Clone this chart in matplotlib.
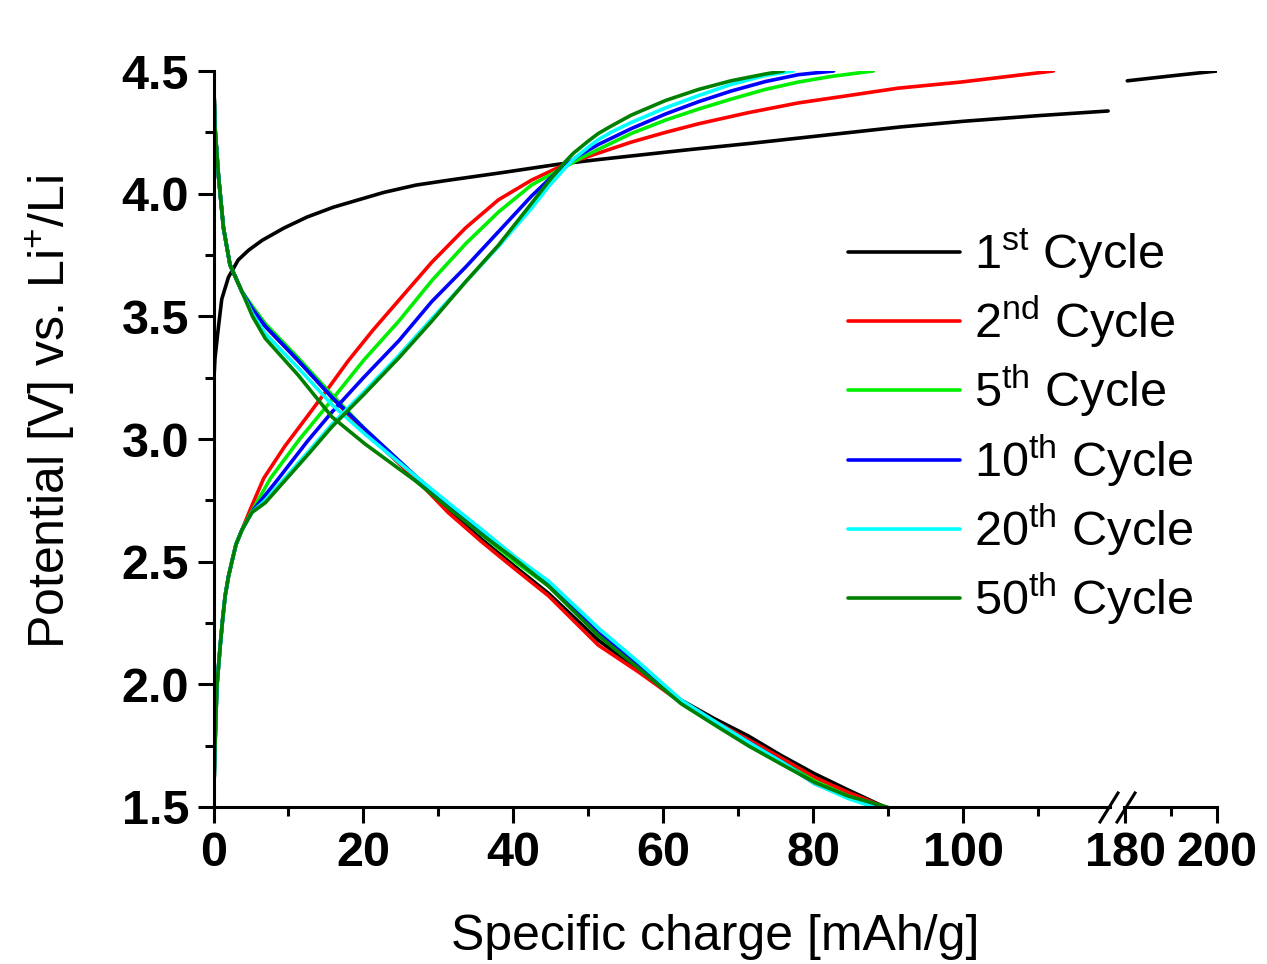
import matplotlib
matplotlib.use('Agg')
import matplotlib.pyplot as plt
import numpy as np
from matplotlib.lines import Line2D

plt.rcParams['font.family'] = ['Liberation Sans', 'DejaVu Sans']
plt.rcParams['mathtext.default'] = 'regular'

W, H = 1267, 964

labels = ['1$^{st}$ Cycle', '2$^{nd}$ Cycle', '5$^{th}$ Cycle',
          '10$^{th}$ Cycle', '20$^{th}$ Cycle', '50$^{th}$ Cycle']
colors = ['#000000', '#ff0000', '#00ee00', '#0000ff', '#00ffff', '#008000']

# charge curves (specific charge in mAh/g, potential in V)
ch_x_1 = [0, 0.2, 0.67, 1.1, 2.0, 3.3, 4.7, 6.5, 9.4, 12.5, 16, 22.7, 27, 31.6, 38.3,
          46, 51.6, 63.6, 71.6, 91.6, 100, 110, 119.3, 180.5, 190, 200]
ch_v_1 = [3.21, 3.33, 3.46, 3.57, 3.66, 3.73, 3.77, 3.81, 3.86, 3.905, 3.945, 4.005,
          4.035, 4.056, 4.085, 4.12, 4.14, 4.18, 4.205, 4.272, 4.295, 4.318, 4.337,
          4.46, 4.48, 4.5]

ch_x_2 = [0, 0.2, 0.45, 0.9, 1.2, 1.55, 2.0, 2.45, 3.0, 3.8, 5.0, 6.7, 9.5, 12.7, 15.5,
          18, 21.3, 24.7, 29.1, 33.6, 38, 42.4, 46.9, 51.3, 55.7, 60.3, 64.7, 71.3, 78,
          84.7, 91.3, 99.7, 106, 112]
ch_v_2 = [1.5, 1.75, 1.99, 2.16, 2.26, 2.36, 2.44, 2.50, 2.57, 2.63, 2.72, 2.84, 2.97,
          3.10, 3.215, 3.32, 3.445, 3.565, 3.72, 3.86, 3.975, 4.055, 4.12, 4.165, 4.21,
          4.25, 4.285, 4.33, 4.37, 4.40, 4.43, 4.455, 4.478, 4.5]

ch_x_5 = [0, 0.2, 0.45, 0.9, 1.2, 1.55, 2.0, 2.45, 3.0, 3.8, 5.2, 7.6, 11.5, 15.8, 20,
          24.7, 29.1, 33.6, 38, 42.4, 46.9, 49.3, 51.3, 55.7, 60.3, 64.7, 69, 73.6, 78,
          82.4, 88]
ch_v_5 = [1.5, 1.75, 1.99, 2.16, 2.26, 2.36, 2.44, 2.50, 2.57, 2.63, 2.71, 2.84, 3.0,
          3.16, 3.32, 3.48, 3.645, 3.795, 3.925, 4.035, 4.11, 4.15, 4.18, 4.245, 4.30,
          4.345, 4.385, 4.425, 4.455, 4.478, 4.5]

ch_x_10 = [0, 0.2, 0.45, 0.9, 1.2, 1.55, 2.0, 2.45, 3.0, 3.8, 5.3, 8.7, 12.5, 15.8, 20,
           24.7, 29.1, 33.6, 38, 42.4, 46, 48.7, 51.3, 55.7, 60.3, 64.7, 69, 73.6, 78,
           82.7]
ch_v_10 = [1.5, 1.75, 1.99, 2.16, 2.26, 2.36, 2.44, 2.50, 2.57, 2.63, 2.71, 2.84, 2.99,
           3.11, 3.25, 3.40, 3.56, 3.70, 3.845, 3.99, 4.095, 4.155, 4.20, 4.265, 4.325,
           4.375, 4.418, 4.457, 4.485, 4.5]

ch_x_20 = [0, 0.2, 0.45, 0.9, 1.2, 1.55, 2.0, 2.45, 3.0, 3.8, 5.1, 6.9, 9.8, 12.7, 15.8,
           20, 24.7, 29.1, 33.6, 38, 42.4, 44.7, 46.9, 48, 50, 51.3, 53, 55.7, 58, 60.3,
           64.7, 69, 73.6, 77.3]
ch_v_20 = [1.5, 1.75, 1.99, 2.16, 2.26, 2.36, 2.44, 2.50, 2.57, 2.63, 2.70, 2.75, 2.85,
           2.95, 3.06, 3.19, 3.34, 3.49, 3.64, 3.785, 3.94, 4.03, 4.105, 4.14, 4.19,
           4.22, 4.25, 4.29, 4.32, 4.35, 4.40, 4.445, 4.482, 4.5]

ch_x_50 = [0, 0.2, 0.45, 0.9, 1.2, 1.55, 2.0, 2.45, 3.0, 3.8, 5.1, 6.9, 9.8, 12.7, 15.8,
           20, 24.7, 29.1, 33.6, 38, 42.4, 44.7, 46.9, 48, 50, 51.3, 53, 55.7, 58, 60.3,
           64.7, 69, 73.6, 76]
ch_v_50 = [1.5, 1.75, 1.99, 2.16, 2.26, 2.36, 2.44, 2.50, 2.57, 2.63, 2.70, 2.74, 2.84,
           2.94, 3.05, 3.18, 3.33, 3.48, 3.64, 3.79, 3.96, 4.05, 4.13, 4.165, 4.215,
           4.245, 4.275, 4.32, 4.35, 4.38, 4.425, 4.46, 4.488, 4.5]

# discharge curves: shared steep start, then one list per cycle
dis_head_x = [0, 0.2, 0.67, 1.33, 2.2, 3.8]
dis_head_v = [4.5, 4.27, 4.07, 3.86, 3.71, 3.60]
dis_x = [5.2, 6.9, 11.3, 15.8, 20.2, 26.9, 31.3, 35.8, 40.2, 44.7, 51.3, 56.7, 62.4,
         66.8, 71.3, 75.7, 80.2, 84.6]

dis_v_1 = [3.53, 3.46, 3.32, 3.17, 3.03, 2.84, 2.71, 2.59, 2.48, 2.37, 2.18, 2.06, 1.935,
           1.86, 1.79, 1.71, 1.635, 1.57]
dis_v_2 = [3.53, 3.46, 3.32, 3.17, 3.03, 2.84, 2.70, 2.58, 2.47, 2.36, 2.16, 2.05, 1.925,
           1.85, 1.775, 1.70, 1.62, 1.56]
dis_v_5 = [3.54, 3.47, 3.33, 3.18, 3.04, 2.85, 2.73, 2.61, 2.50, 2.40, 2.20, 2.07, 1.925,
           1.84, 1.76, 1.685, 1.605, 1.545]
dis_v_10 = [3.53, 3.46, 3.32, 3.17, 3.04, 2.85, 2.73, 2.62, 2.51, 2.41, 2.21, 2.075, 1.925,
            1.845, 1.765, 1.685, 1.595, 1.54]
dis_v_20 = [3.51, 3.43, 3.29, 3.14, 3.02, 2.85, 2.74, 2.63, 2.52, 2.42, 2.23, 2.09, 1.935,
            1.85, 1.765, 1.685, 1.595, 1.535]
dis_v_50 = [3.50, 3.41, 3.26, 3.09, 2.98, 2.83, 2.72, 2.61, 2.51, 2.40, 2.20, 2.065, 1.92,
            1.835, 1.75, 1.675, 1.60, 1.545]
dis_end_x = [89.5, 89.5, 89.5, 88.5, 88.0, 89.8]

charge = [(ch_x_1, ch_v_1), (ch_x_2, ch_v_2), (ch_x_5, ch_v_5),
          (ch_x_10, ch_v_10), (ch_x_20, ch_v_20), (ch_x_50, ch_v_50)]
discharge = [dis_v_1, dis_v_2, dis_v_5, dis_v_10, dis_v_20, dis_v_50]

fig = plt.figure(figsize=(W / 100, H / 100), dpi=100)
y0, y1 = 807, 71
ax1 = fig.add_axes([213.5 / W, 1 - y0 / H, (1109.6 - 213.5) / W, (y0 - y1) / H])
ax2 = fig.add_axes([1124 / W, 1 - y0 / H, (1217 - 1124) / W, (y0 - y1) / H])
ax2.patch.set_visible(False)

lw = 2.6
handles = []
for (cx, cv), dv, xe, c, lab in zip(charge, discharge, dis_end_x, colors, labels):
    cx = np.array(cx)
    cv = np.array(cv)
    left = cx <= 120
    h, = ax1.plot(cx[left], cv[left], color=c, lw=lw, label=lab,
                  solid_joinstyle='round', solid_capstyle='round')
    if (~left).any():
        ax2.plot(cx[~left], cv[~left], color=c, lw=lw, solid_capstyle='round')
    ax1.plot(dis_head_x + dis_x + [xe], dis_head_v + dv + [1.5], color=c, lw=lw,
             solid_joinstyle='round')
    handles.append(h)

ax1.set_xlim(0, 119.5)
ax1.set_ylim(1.5, 4.5)
ax2.set_xlim(200 - 93 / 4.6, 200)
ax2.set_ylim(1.5, 4.5)

for ax in (ax1, ax2):
    for s in ('top', 'right'):
        ax.spines[s].set_visible(False)
    for s in ax.spines.values():
        s.set_linewidth(2.2)
    ax.tick_params(which='major', direction='out', length=11.5, width=2.2,
                   labelsize=35, pad=6)
    ax.tick_params(which='minor', direction='out', length=6.5, width=2.2)

ax1.set_xticks([0, 20, 40, 60, 80, 100])
ax1.set_xticks(np.arange(10, 120, 20), minor=True)
ax1.set_yticks([1.5, 2.0, 2.5, 3.0, 3.5, 4.0, 4.5])
ax1.set_yticks(np.arange(1.75, 4.5, 0.5), minor=True)
ax1.set_yticklabels(['1.5', '2.0', '2.5', '3.0', '3.5', '4.0', '4.5'], fontweight='bold')
ax1.set_xticklabels(['0', '20', '40', '60', '80', '100'], fontweight='bold')

ax2.spines['left'].set_visible(False)
ax2.set_xticks([180, 200])
ax2.set_xticks([190], minor=True)
ax2.set_xticklabels(['180', '200'], fontweight='bold')
ax2.set_yticks([])

# axis break marks
for x0 in (1100, 1117):
    fig.add_artist(Line2D([x0 / W, (x0 + 18) / W], [1 - 822 / H, 1 - 793 / H],
                          color='black', lw=2.2, transform=fig.transFigure))

fig.text(715 / W, 1 - 937 / H, 'Specific charge [mAh/g]', fontsize=36,
         ha='center', va='center')
fig.text(50 / W, 1 - 412 / H, 'Potential [V] vs. Li$^{+}$/Li', fontsize=36,
         ha='center', va='center', rotation=90)

fig.legend(handles=handles, loc='upper left', bbox_to_anchor=(848 / W, 1 - 226 / H),
           bbox_transform=fig.transFigure, frameon=False, fontsize=35,
           handlelength=2.3, handletextpad=0.3, labelspacing=0.26,
           borderpad=0, borderaxespad=0)

fig.savefig('out.png', dpi=100, facecolor='white')
